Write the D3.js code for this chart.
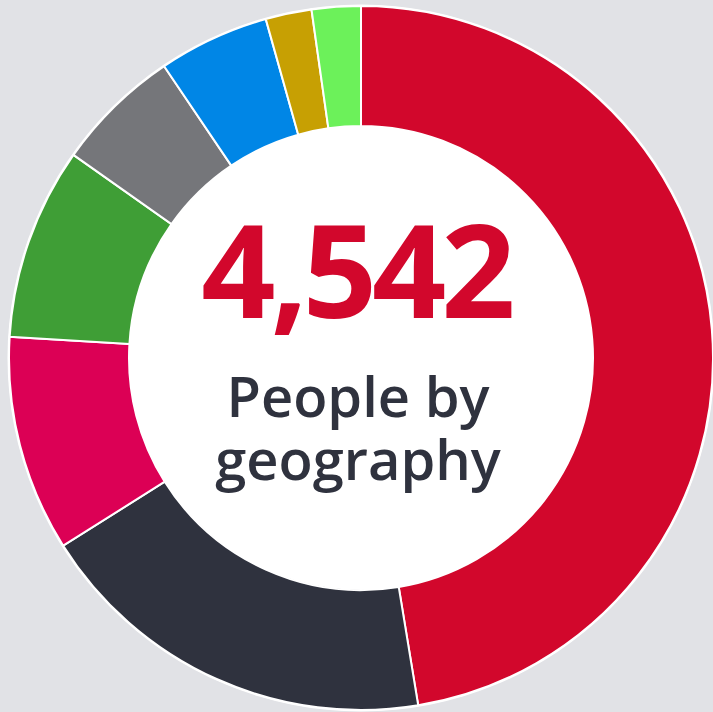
<!DOCTYPE html>
<html>
<head>
<meta charset="utf-8">
<script src="https://cdn.jsdelivr.net/npm/d3@7"></script>
<style>
  html, body { margin: 0; padding: 0; background: #e1e2e6; }
  #dataViz { width: 713px; height: 712px; }
</style>
</head>
<body>
<div id="dataViz"></div>
<script>
const width = 713;
const height = 712;

// Data (people by geography, total 4,542)
const regions = ["Region A", "Region B", "Region C", "Region D", "Region E", "Region F", "Region G", "Region H"];
const people = [2153, 847, 450, 401, 262, 231, 96, 102];
const sliceColours = ["#d2072c", "#2f323e", "#dc0055", "#3f9e36", "#75767a", "#0086e6", "#c7a003", "#6cf15a"];

const totalLabel = "4,542";
const titleLines = ["People by", "geography"];

const centre = { x: 361, y: 358 };
const outerRadius = 352;
const innerRadius = 232;

const data = regions.map((r, i) => ({ region: r, value: people[i] }));

const svg = d3.select("#dataViz")
  .append("svg")
  .attr("width", width)
  .attr("height", height)
  .attr("viewBox", [0, 0, width, height]);

svg.append("rect")
  .attr("width", width)
  .attr("height", height)
  .attr("fill", "#e1e2e6");

const g = svg.append("g")
  .attr("transform", `translate(${centre.x}, ${centre.y})`);

// White backing so the hole is white and the ring has a thin white rim
g.append("circle")
  .attr("r", outerRadius + 1.5)
  .attr("fill", "#fff");

const colour = d3.scaleOrdinal()
  .domain(regions)
  .range(sliceColours);

const pie = d3.pie()
  .value(d => d.value)
  .sort(null);

const arc = d3.arc()
  .innerRadius(innerRadius)
  .outerRadius(outerRadius);

g.selectAll(".slice")
  .data(pie(data))
  .enter()
  .append("path")
  .attr("class", "slice")
  .attr("d", arc)
  .attr("fill", d => colour(d.data.region))
  .attr("stroke", "#fff")
  .attr("stroke-width", 2);

// Centre labels
g.append("text")
  .attr("x", -5)
  .attr("y", -40)
  .attr("text-anchor", "middle")
  .style("font-family", "'Open Sans', 'Noto Sans', sans-serif")
  .style("font-weight", 700)
  .style("font-size", "130px")
  .style("letter-spacing", "-5px")
  .style("fill", "#d2072c")
  .text(totalLabel);

g.selectAll(".title")
  .data(titleLines)
  .enter()
  .append("text")
  .attr("class", "title")
  .attr("x", -3)
  .attr("y", (d, i) => 59 + i * 63)
  .attr("text-anchor", "middle")
  .style("font-family", "'Open Sans', 'Noto Sans', sans-serif")
  .style("font-weight", 600)
  .style("font-size", "56px")
  .style("fill", "#2f323e")
  .text(d => d);
</script>
</body>
</html>
